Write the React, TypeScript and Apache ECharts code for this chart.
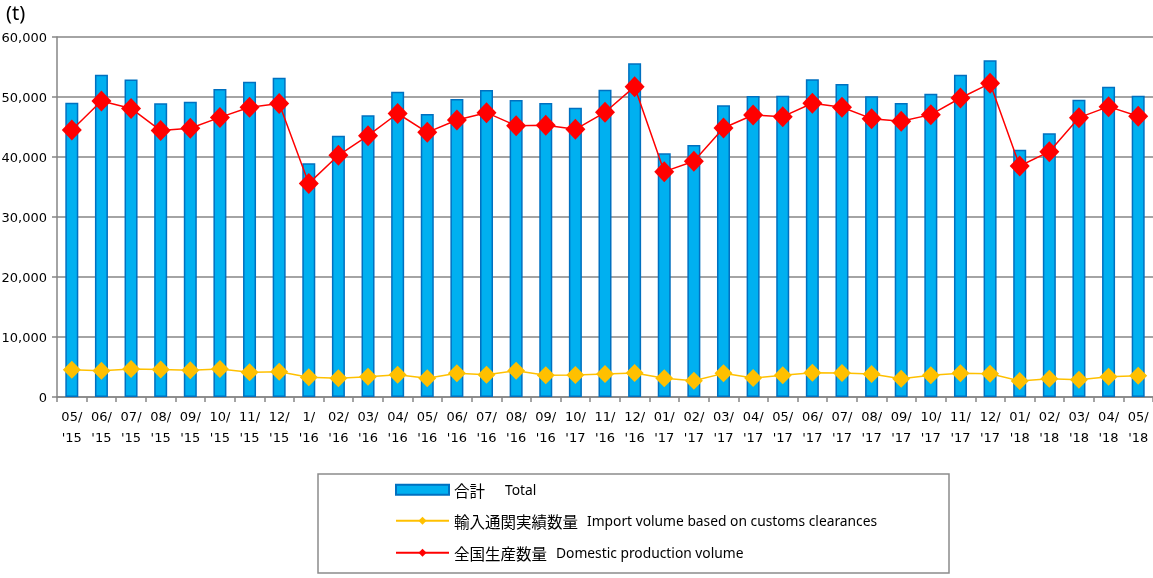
import React, { useEffect, useRef } from "react";
import * as echarts from "echarts";

const categories = [
  "05/\n'15", "06/\n'15", "07/\n'15", "08/\n'15", "09/\n'15", "10/\n'15", "11/\n'15", "12/\n'15",
  "1/\n'16", "02/\n'16", "03/\n'16", "04/\n'16", "05/\n'16", "06/\n'16", "07/\n'16", "08/\n'16",
  "09/\n'16", "10/\n'17", "11/\n'16", "12/\n'16", "01/\n'17", "02/\n'17", "03/\n'17", "04/\n'17",
  "05/\n'17", "06/\n'17", "07/\n'17", "08/\n'17", "09/\n'17", "10/\n'17", "11/\n'17", "12/\n'17",
  "01/\n'18", "02/\n'18", "03/\n'18", "04/\n'18", "05/\n'18",
];

const totalValues = [
  49050, 53700, 52900, 48950, 49200, 51330, 52550, 53200, 38950, 43550, 46950, 50870, 47170,
  49670, 51170, 49500, 49000, 48220, 51220, 55620, 40620, 42000, 48620, 50170, 50220, 52950,
  52170, 50110, 49000, 50560, 53720, 56110, 41220, 43950, 49560, 51720, 50220,
];

const domesticValues = [
  44500, 49330, 48100, 44400, 44800, 46600, 48280, 48900, 35600, 40280, 43550, 47250, 44110,
  46170, 47390, 45220, 45300, 44610, 47450, 51720, 37560, 39280, 44830, 47000, 46720, 48950,
  48280, 46390, 45950, 47060, 49830, 52280, 38500, 40890, 46560, 48390, 46780,
];

const importValues = [
  4550, 4380, 4660, 4600, 4440, 4660, 4110, 4220, 3280, 3110, 3380, 3720, 3110, 3940, 3720,
  4380, 3610, 3660, 3830, 4000, 3110, 2720, 3940, 3170, 3610, 4050, 4000, 3830, 3050, 3610,
  3940, 3880, 2670, 3050, 2890, 3380, 3550,
];

const seriesNames = ["合計", "輸入通関実績数量", "全国生産数量"];
const seriesEnglish = ["Total", "Import volume based on customs clearances", "Domestic production volume"];
const yTicks = { min: 0, max: 60000, interval: 10000 };

export default function App() {
  const ref = useRef<HTMLDivElement>(null);
  useEffect(() => {
    if (!ref.current) return;
    const chart = echarts.init(ref.current, null, { renderer: "svg" });
    const axisGray = "#868686";
    const legendRich = (cjkWidth: number | undefined, pad: number) => ({
      a: { fontFamily: "Noto Sans CJK JP", fontSize: 15.5, color: "#000", width: cjkWidth, padding: [0, pad, 0, 0] },
      b: { fontFamily: "Noto Sans", fontSize: 13.8, color: "#000" },
    });
    const mkLegend = (i: number, top: number, cjkW: number | undefined, pad: number) => ({
      data: [i === 0 ? { name: seriesNames[i], icon: "rect" } : seriesNames[i]],
      left: 390,
      top,
      itemWidth: 53,
      itemHeight: 10,
      selectedMode: false,
      formatter: () => `{a|${seriesNames[i]}}{b|${seriesEnglish[i]}}`,
      textStyle: { rich: legendRich(cjkW, pad) },
    });
    chart.setOption({
      animation: false,
      textStyle: { fontFamily: "DejaVu Sans" },
      grid: { left: 57, right: 0, top: 37, bottom: 181, containLabel: false, outerBoundsMode: "none" },
      xAxis: {
        type: "category",
        data: categories,
        boundaryGap: true,
        axisLine: { lineStyle: { color: axisGray, width: 1.5 } },
        axisTick: { show: true, length: 5, alignWithLabel: false, lineStyle: { color: axisGray, width: 1.5 } },
        axisLabel: {
          interval: 0,
          margin: 9,
          fontSize: 13,
          color: "#000",
          lineHeight: 21,
          fontFamily: "DejaVu Sans",
        },
      },
      yAxis: {
        type: "value",
        min: yTicks.min,
        max: yTicks.max,
        interval: yTicks.interval,
        axisLine: { show: true, lineStyle: { color: axisGray, width: 1.5 } },
        axisTick: { show: true, length: 5, lineStyle: { color: axisGray, width: 1.5 } },
        splitLine: { lineStyle: { color: axisGray, width: 1.5 } },
        axisLabel: {
          margin: 10,
          fontSize: 13,
          color: "#000",
          fontFamily: "DejaVu Sans",
          formatter: (v: number) => v.toLocaleString("en-US"),
        },
      },
      legend: [mkLegend(0, 477, 51, 0), mkLegend(1, 508, undefined, 9), mkLegend(2, 540, undefined, 9)],
      graphic: [
        {
          type: "text",
          left: 6,
          top: 2,
          style: { text: "(t)", fontSize: 20, fill: "#000", fontFamily: "Noto Sans" },
        },
        {
          type: "rect",
          shape: { x: 318, y: 474, width: 631, height: 99 },
          style: { fill: "none", stroke: "#8c8c8c", lineWidth: 1.5 },
          z: -1,
        },
      ],
      series: [
        {
          name: seriesNames[0],
          type: "bar",
          data: totalValues,
          barWidth: 13,
          itemStyle: { color: "#00B0F0", borderColor: "#0070C0", borderWidth: 1.5 },
        },
        {
          name: seriesNames[1],
          type: "line",
          data: importValues,
          symbol: "diamond",
          symbolSize: 18,
          itemStyle: { color: "#FFC000" },
          lineStyle: { color: "#FFC000", width: 1.5 },
          z: 3,
        },
        {
          name: seriesNames[2],
          type: "line",
          data: domesticValues,
          symbol: "diamond",
          symbolSize: [20, 21],
          itemStyle: { color: "#FF0000" },
          lineStyle: { color: "#FF0000", width: 1.5 },
          z: 4,
        },
      ],
    });
    return () => chart.dispose();
  }, []);
  return <div ref={ref} style={{ position: "fixed", left: 0, top: 0, width: 1153, height: 578 }} />;
}
